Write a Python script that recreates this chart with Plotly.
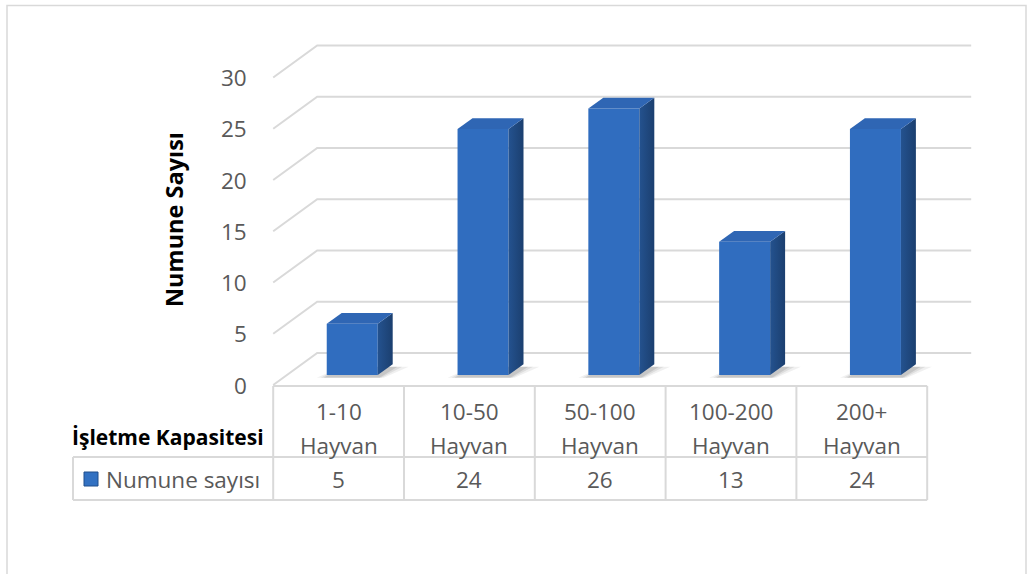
import plotly.graph_objects as go

# ---- data -------------------------------------------------------------
categories = ["1-10 Hayvan", "10-50 Hayvan", "50-100 Hayvan", "100-200 Hayvan", "200+ Hayvan"]
values = [5, 24, 26, 13, 24]
y_ticks = [0, 5, 10, 15, 20, 25, 30]
series_name = "Numune sayısı"
y_title = "Numune Sayısı"
x_title = "İşletme Kapasitesi"

# ---- frame geometry (pixels of the 1028x574 canvas) -------------------
W, H = 1028, 574
COL0_PX = 338.6   # centre of the first category column
COL_W = 130.8     # width of one category column
ZERO_PX = 385.0   # front edge of the floor (value 0)
UNIT_PX = 10.25   # pixels per value unit


def px_x(p):
    return (p - COL0_PX) / COL_W


def px_y(p):
    return (ZERO_PX - p) / UNIT_PX


# 3-D depth of the floor/back wall, in axis units
DEPTH_X = 44 / COL_W
DEPTH_Y = 32 / UNIT_PX
BAR_FRONT, BAR_BACK = 0.31, 0.65
BAR_HALF = 25.5 / COL_W

GRID = "#d9d9d9"
TXT = "#595959"
FONT = "Open Sans"
FS = 22.5

n = len(categories)
left_x = -0.5
right_x = n - 0.5

fig = go.Figure()
shapes = []

# value gridlines: short diagonal on the side wall, then along the back wall
for t in y_ticks:
    path = (f"M {left_x},{t} L {left_x + DEPTH_X},{t + DEPTH_Y} "
            f"L {right_x + DEPTH_X},{t + DEPTH_Y}")
    shapes.append(dict(type="path", path=path, xref="x", yref="y",
                       line=dict(color=GRID, width=2), layer="below"))

# column geometry
sx = BAR_FRONT * DEPTH_X
sy = BAR_FRONT * DEPTH_Y
dx = (BAR_BACK - BAR_FRONT) * DEPTH_X
dy = (BAR_BACK - BAR_FRONT) * DEPTH_Y
xs = [i + sx for i in range(n)]

# soft floor shadows under the columns
for i, x in enumerate(xs):
    for grow, op in ((10, 0.06), (6, 0.08), (3, 0.10)):
        g = grow / COL_W
        xl, xr = x - BAR_HALF - g, x + BAR_HALF + g * 0.6
        b = sy - 0.25
        path = (f"M {xl},{b} L {xr},{b} L {xr + dx + g},{b + dy} "
                f"L {xl + dx + g},{b + dy} Z")
        shapes.append(dict(type="path", path=path, xref="x", yref="y",
                           fillcolor=f"rgba(0,0,0,{op})", line=dict(width=0),
                           layer="below"))

# front faces of the columns
fig.add_trace(go.Bar(
    x=xs, y=values, base=[sy] * n, width=2 * BAR_HALF,
    marker=dict(color="#306dbf", line=dict(width=0)),
    name=series_name, showlegend=False,
    hovertext=categories, hoverinfo="text+y",
))

# side and top faces
for x, v in zip(xs, values):
    xl, xr = x - BAR_HALF, x + BAR_HALF
    top = sy + v
    fig.add_trace(go.Scatter(
        x=[xr, xr, xr + dx, xr + dx, xr],
        y=[sy, top, top + dy, sy + dy, sy],
        fill="toself", mode="lines", line=dict(width=0),
        fillgradient=dict(type="horizontal",
                          colorscale=[[0, "#24528f"], [1, "#1b3f6f"]]),
        hoverinfo="skip", showlegend=False,
    ))
    fig.add_trace(go.Scatter(
        x=[xl, xr, xr + dx, xl + dx, xl],
        y=[top, top, top + dy, top + dy, top],
        fill="toself", mode="lines", line=dict(width=0),
        fillcolor="#2f66b4",
        hoverinfo="skip", showlegend=False,
    ))

# data table
row_top, row_mid, row_bot = px_y(386), px_y(457), px_y(500)
legend_left = px_x(73)


def seg(x0, y0, x1, y1):
    shapes.append(dict(type="line", x0=x0, y0=y0, x1=x1, y1=y1,
                       xref="x", yref="y", line=dict(color=GRID, width=2)))


seg(left_x, row_top, right_x, row_top)
seg(legend_left, row_mid, right_x, row_mid)
seg(legend_left, row_bot, right_x, row_bot)
seg(legend_left, row_mid, legend_left, row_bot)
for k in range(n + 1):
    seg(k - 0.5, row_top, k - 0.5, row_bot)

# legend key
shapes.append(dict(type="rect", xref="x", yref="y",
                   x0=px_x(84), x1=px_x(98), y0=px_y(472), y1=px_y(486),
                   fillcolor="#3271c2", line=dict(color="#1f4e8c", width=1)))

# chart outline
shapes.append(dict(type="rect", xref="paper", yref="paper",
                   x0=7 / W, x1=1026 / W, y0=-0.05, y1=1 - 5.5 / H,
                   line=dict(color=GRID, width=1.5), fillcolor="rgba(0,0,0,0)",
                   layer="below"))

ann = []
for t in y_ticks:
    ann.append(dict(x=px_x(249), y=t, text=str(t), xanchor="right",
                    yanchor="middle", showarrow=False,
                    font=dict(family=FONT, size=FS, color=TXT)))

for i, (c, v) in enumerate(zip(categories, values)):
    first, second = c.split(" ", 1)
    ann.append(dict(x=i, y=px_y(411), text=first, showarrow=False,
                    font=dict(family=FONT, size=FS, color=TXT)))
    ann.append(dict(x=i, y=px_y(445), text=second, showarrow=False,
                    font=dict(family=FONT, size=FS, color=TXT)))
    ann.append(dict(x=i, y=px_y(479), text=str(v), showarrow=False,
                    font=dict(family=FONT, size=FS, color=TXT)))

ann.append(dict(x=px_x(104), y=px_y(479), text=series_name, xanchor="left",
                showarrow=False, font=dict(family=FONT, size=FS, color=TXT)))
ann.append(dict(x=px_x(266), y=px_y(437), text=f"<b>{x_title}</b>",
                xanchor="right", showarrow=False,
                font=dict(family=FONT, size=21, color="#000000")))
ann.append(dict(x=px_x(174), y=px_y(220), text=f"<b>{y_title}</b>",
                textangle=-90, showarrow=False,
                font=dict(family=FONT, size=23.5, color="#000000")))

fig.update_layout(
    width=W, height=H,
    margin=dict(l=0, r=0, t=0, b=0),
    paper_bgcolor="white", plot_bgcolor="white",
    shapes=shapes, annotations=ann,
    showlegend=False,
    xaxis=dict(range=[px_x(0), px_x(W)], visible=False, fixedrange=True),
    yaxis=dict(range=[px_y(H), px_y(0)], visible=False, fixedrange=True),
)

fig.write_html("out.html")
